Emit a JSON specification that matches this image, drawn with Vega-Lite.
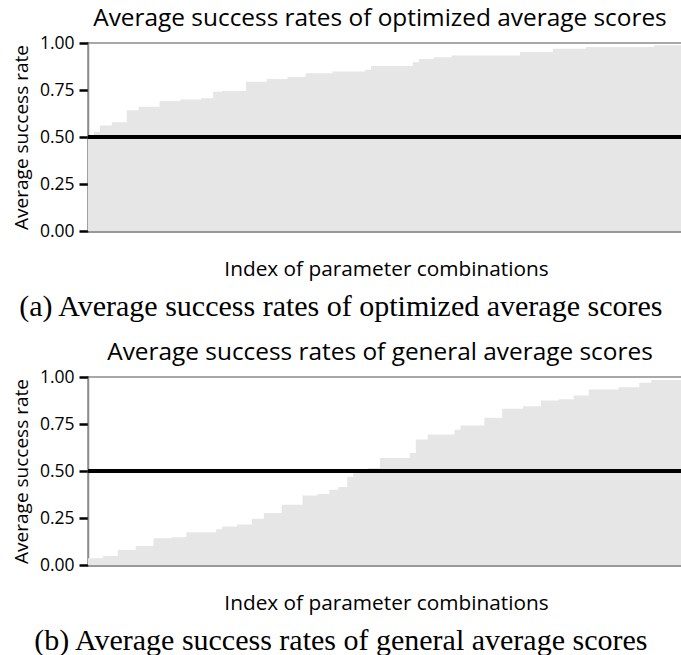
{
  "$schema": "https://vega.github.io/schema/vega-lite/v6.json",
  "padding": {"left": 11, "top": 4, "right": 0, "bottom": 0},
  "background": "white",
  "config": {
    "font": "Open Sans",
    "view": {"stroke": "#8c8c8c", "strokeWidth": 1.5},
    "axis": {"grid": false},
    "concat": {"spacing": 16}
  },
  "datasets": {
    "opt": [
      {"idx": 0, "v": 0.505}, {"idx": 2, "v": 0.526}, {"idx": 4, "v": 0.561}, {"idx": 8, "v": 0.579},
      {"idx": 13, "v": 0.642}, {"idx": 17, "v": 0.661}, {"idx": 24, "v": 0.691}, {"idx": 31, "v": 0.700},
      {"idx": 38, "v": 0.706}, {"idx": 42, "v": 0.741}, {"idx": 45, "v": 0.745}, {"idx": 53, "v": 0.794},
      {"idx": 60, "v": 0.809}, {"idx": 67, "v": 0.819}, {"idx": 73, "v": 0.839}, {"idx": 82, "v": 0.848},
      {"idx": 93, "v": 0.858}, {"idx": 95, "v": 0.878}, {"idx": 109, "v": 0.897}, {"idx": 111, "v": 0.915},
      {"idx": 116, "v": 0.924}, {"idx": 122, "v": 0.934}, {"idx": 145, "v": 0.952}, {"idx": 156, "v": 0.970},
      {"idx": 167, "v": 0.979}, {"idx": 190, "v": 0.988}, {"idx": 200, "v": 0.988}
    ],
    "gen": [
      {"idx": 0, "v": 0.036}, {"idx": 5, "v": 0.048}, {"idx": 10, "v": 0.080}, {"idx": 16, "v": 0.101},
      {"idx": 22, "v": 0.142}, {"idx": 28, "v": 0.147}, {"idx": 33, "v": 0.174}, {"idx": 43, "v": 0.190},
      {"idx": 45, "v": 0.205}, {"idx": 50, "v": 0.215}, {"idx": 55, "v": 0.246}, {"idx": 59, "v": 0.276},
      {"idx": 65, "v": 0.320}, {"idx": 72, "v": 0.370}, {"idx": 77, "v": 0.378}, {"idx": 81, "v": 0.400},
      {"idx": 84, "v": 0.415}, {"idx": 87, "v": 0.470}, {"idx": 89, "v": 0.507}, {"idx": 94, "v": 0.516},
      {"idx": 98, "v": 0.569}, {"idx": 108, "v": 0.596}, {"idx": 110, "v": 0.667}, {"idx": 114, "v": 0.694},
      {"idx": 123, "v": 0.720}, {"idx": 125, "v": 0.742}, {"idx": 133, "v": 0.783}, {"idx": 139, "v": 0.831},
      {"idx": 146, "v": 0.845}, {"idx": 152, "v": 0.875}, {"idx": 158, "v": 0.882}, {"idx": 163, "v": 0.902},
      {"idx": 168, "v": 0.934}, {"idx": 178, "v": 0.945}, {"idx": 185, "v": 0.970}, {"idx": 189, "v": 0.984},
      {"idx": 200, "v": 0.984}
    ]
  },
  "vconcat": [
    {
      "title": {"text": "(a) Average success rates of optimized average scores", "orient": "bottom", "font": "Liberation Serif", "fontSize": 30, "fontWeight": "normal", "color": "black", "offset": 12, "anchor": "middle", "dx": -8},
      "vconcat": [
        {
          "width": 596,
          "height": 188,
          "title": {"text": "Average success rates of optimized average scores", "font": "Open Sans", "fontSize": 24.4, "fontWeight": "normal", "color": "black", "offset": 3, "dx": -6},
          "data": {"name": "opt"},
          "layer": [
            {
              "mark": {"type": "area", "interpolate": "step-after", "color": "#e6e6e6", "opacity": 1},
              "encoding": {
                "x": {"field": "idx", "type": "quantitative", "scale": {"domain": [0, 200], "nice": false},
                  "axis": {"title": "Index of parameter combinations", "labels": false, "ticks": false, "domainColor": "#999999", "domainWidth": 3, "titleFont": "Open Sans", "titleFontSize": 20.8, "titleFontWeight": "normal", "titleColor": "black", "titlePadding": 28}},
                "y": {"field": "v", "type": "quantitative", "scale": {"domain": [0, 1], "nice": false},
                  "axis": {"title": "Average success rate", "values": [0, 0.25, 0.5, 0.75, 1], "format": ".2f", "tickColor": "black", "tickWidth": 2.5, "tickSize": 9, "labelFont": "Open Sans", "labelFontSize": 17.5, "labelColor": "black", "labelPadding": 5, "domainColor": "#8c8c8c", "domainWidth": 1.5, "titleFont": "Open Sans", "titleFontSize": 19, "titleFontWeight": "normal", "titleColor": "black", "titlePadding": 8}}
              }
            },
            {
              "mark": {"type": "rule", "color": "black", "strokeWidth": 2.5},
              "encoding": {"y": {"datum": 0.5}}
            }
          ]
        }
      ]
    },
    {
      "title": {"text": "(b) Average success rates of general average scores", "orient": "bottom", "font": "Liberation Serif", "fontSize": 30, "fontWeight": "normal", "color": "black", "offset": 12, "anchor": "middle", "dx": -8},
      "vconcat": [
        {
          "width": 596,
          "height": 188,
          "title": {"text": "Average success rates of general average scores", "font": "Open Sans", "fontSize": 24.4, "fontWeight": "normal", "color": "black", "offset": 3, "dx": -6},
          "data": {"name": "gen"},
          "layer": [
            {
              "mark": {"type": "area", "interpolate": "step-after", "color": "#e6e6e6", "opacity": 1},
              "encoding": {
                "x": {"field": "idx", "type": "quantitative", "scale": {"domain": [0, 200], "nice": false},
                  "axis": {"title": "Index of parameter combinations", "labels": false, "ticks": false, "domainColor": "#999999", "domainWidth": 3, "titleFont": "Open Sans", "titleFontSize": 20.8, "titleFontWeight": "normal", "titleColor": "black", "titlePadding": 28}},
                "y": {"field": "v", "type": "quantitative", "scale": {"domain": [0, 1], "nice": false},
                  "axis": {"title": "Average success rate", "values": [0, 0.25, 0.5, 0.75, 1], "format": ".2f", "tickColor": "black", "tickWidth": 2.5, "tickSize": 9, "labelFont": "Open Sans", "labelFontSize": 17.5, "labelColor": "black", "labelPadding": 5, "domainColor": "#8c8c8c", "domainWidth": 1.5, "titleFont": "Open Sans", "titleFontSize": 19, "titleFontWeight": "normal", "titleColor": "black", "titlePadding": 8}}
              }
            },
            {
              "mark": {"type": "rule", "color": "black", "strokeWidth": 2.5},
              "encoding": {"y": {"datum": 0.5}}
            }
          ]
        }
      ]
    }
  ]
}
